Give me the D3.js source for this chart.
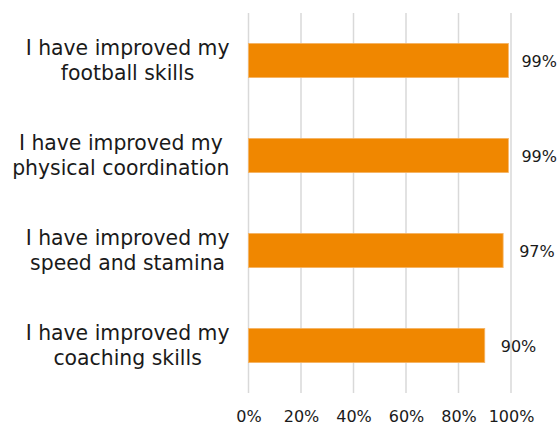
<!DOCTYPE html>
<html>
<head>
<meta charset="utf-8">
<script src="https://cdn.jsdelivr.net/npm/d3@7"></script>
<style>
  html, body { margin: 0; padding: 0; background: #ffffff; }
  svg { display: block; font-family: "DejaVu Sans", Verdana, sans-serif; }
</style>
</head>
<body>
<svg id="chart" width="560" height="424"></svg>
<script>
// Survey statements (each label split into its two display lines)
const categories = [
  ["I have improved my", "football skills"],
  ["I have improved my", "physical coordination"],
  ["I have improved my", "speed and stamina"],
  ["I have improved my", "coaching skills"]
];
// Share of respondents agreeing, in percent
const values = [99, 99, 97, 90];
// Axis tick values, in percent
const tickValues = [0, 20, 40, 60, 80, 100];

const svg = d3.select("#chart");
const margin = { left: 248.5, right: 49, top: 13, bottom: 31 };
const W = 560, H = 424;

const x = d3.scaleLinear()
  .domain([0, 100])
  .range([margin.left, W - margin.right]);

const y = d3.scaleBand()
  .domain(d3.range(categories.length))
  .range([margin.top, H - margin.bottom])
  .paddingInner(0.64)
  .paddingOuter(0.32);

// Vertical gridlines
svg.append("g")
  .selectAll("line")
  .data(tickValues)
  .join("line")
  .attr("x1", d => x(d))
  .attr("x2", d => x(d))
  .attr("y1", margin.top)
  .attr("y2", H - margin.bottom)
  .attr("stroke", "#d9d9d9")
  .attr("stroke-width", 1.5);

// Bottom axis labels
const xAxis = d3.axisBottom(x)
  .tickValues(tickValues)
  .tickFormat(d => d + "%")
  .tickSize(0)
  .tickPadding(0);

const ax = svg.append("g")
  .attr("transform", `translate(0,${H - margin.bottom})`)
  .call(xAxis);
ax.select(".domain").remove();
ax.selectAll("text")
  .attr("y", 28.5)
  .attr("dy", null)
  .attr("font-size", 16)
  .attr("font-family", "DejaVu Sans, Verdana, sans-serif")
  .attr("fill", "#1a1a1a");

// Bars
svg.append("g")
  .selectAll("rect")
  .data(values)
  .join("rect")
  .attr("x", x(0))
  .attr("y", (d, i) => y(i))
  .attr("width", d => x(d) - x(0))
  .attr("height", y.bandwidth())
  .attr("fill", "#f08700")
  .attr("stroke", "#f6b566")
  .attr("stroke-width", 0.8);

// Value labels, kept inside the canvas
const valLabels = svg.append("g")
  .selectAll("text")
  .data(values)
  .join("text")
  .attr("y", (d, i) => y(i) + y.bandwidth() / 2 + 6.8)
  .attr("font-size", 16)
  .attr("fill", "#1a1a1a")
  .text(d => d + "%");
valLabels.each(function (d) {
  const w = this.getComputedTextLength();
  const xs = Math.min(x(d) + 16, 557 - w);
  d3.select(this).attr("x", xs);
});

// Category labels: right-aligned block, lines centred within the block
const catG = svg.append("g");
categories.forEach((lines, i) => {
  const cy = y(i) + y.bandwidth() / 2;
  const t = catG.append("text")
    .attr("font-size", 20.4)
    .attr("fill", "#1a1a1a")
    .attr("text-anchor", "middle");
  const spans = lines.map((ln, k) =>
    t.append("tspan").attr("y", cy + 7 + (k - (lines.length - 1) / 2) * 25).text(ln)
  );
  const maxW = d3.max(spans, s => s.node().getComputedTextLength());
  const cx = 229.5 - maxW / 2;
  spans.forEach(s => s.attr("x", cx));
});
</script>
</body>
</html>
